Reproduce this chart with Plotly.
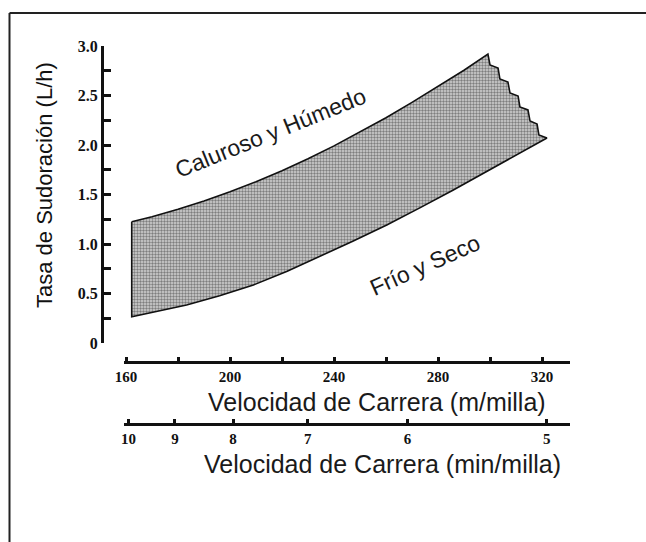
import plotly.graph_objects as go

# Sweat-rate band: upper (hot & humid) and lower (cool & dry) limits
upper_speed = [162.2, 170, 180, 190, 200, 210, 220, 230, 240, 250, 260, 270, 280, 290, 299.2]
upper_rate = [1.225, 1.276, 1.351, 1.434, 1.527, 1.629, 1.740, 1.861, 1.991, 2.130, 2.275,
              2.430, 2.590, 2.755, 2.919]

# Broken (zig-zag) right edge of the band, top to bottom
edge_speed = [300.0, 303.1, 303.8, 306.9, 307.7, 310.8, 311.5, 314.6, 315.4, 318.1, 318.8, 321.9]
edge_rate = [2.808, 2.778, 2.667, 2.636, 2.525, 2.495, 2.384, 2.354, 2.242, 2.212, 2.101, 2.071]

lower_speed = [162.2, 172, 183.3, 196, 209, 222, 234.6, 247, 260.3, 273, 285.9, 300, 311, 321.9]
lower_rate = [0.266, 0.318, 0.384, 0.478, 0.586, 0.725, 0.872, 1.025, 1.192, 1.365, 1.545,
              1.750, 1.910, 2.071]

# Axis ticks
speed_ticks = [160, 180, 200, 220, 240, 260, 280, 300, 320]
speed_labels = ["160", "", "200", "", "240", "", "280", "", "320"]
pace_ticks = [10, 9, 8, 7, 6, 5]  # min per mile
rate_ticks = [0, 0.5, 1.0, 1.5, 2.0, 2.5, 3.0]
rate_labels = ["0", "0.5", "1.0", "1.5", "2.0", "2.5", "3.0"]

METERS_PER_MILE = 1609.34
pace_positions = [METERS_PER_MILE / p for p in pace_ticks]

band_x = upper_speed + edge_speed + lower_speed[::-1][1:] + [upper_speed[0]]
band_y = upper_rate + edge_rate + lower_rate[::-1][1:] + [upper_rate[0]]

W, H = 646, 542
ML, MR, MT, MB = 102, 76, 46, 112
PW, PH = W - ML - MR, H - MT - MB


def px(xp):
    return (xp - ML) / PW


def py(yp):
    return (H - MB - yp) / PH


fig = go.Figure()
fig.add_trace(go.Scatter(
    x=band_x, y=band_y, mode="lines", fill="toself",
    line=dict(color="#111", width=1.6),
    fillcolor="#c8c8c8",
    fillpattern=dict(shape=".", size=3, solidity=0.5, fgcolor="#2a2a2a", bgcolor="#d2d2d2"),
    hoverinfo="skip", showlegend=False,
))
# keeps the pace axis attached
fig.add_trace(go.Scatter(x=[pace_positions[0]], y=[0], xaxis="x2", mode="markers",
                         marker=dict(opacity=0), hoverinfo="skip", showlegend=False))

tick_font = dict(family="Liberation Serif", size=15, color="#111", weight="bold")
x_dom = [px(124), 1]
x_rng = [159.23, 330.77]

fig.update_layout(
    width=W, height=H,
    margin=dict(l=ML, r=MR, t=MT, b=MB, pad=0),
    paper_bgcolor="white", plot_bgcolor="rgba(0,0,0,0)",
    xaxis=dict(domain=x_dom, range=x_rng, anchor="free", position=py(362),
               showline=True, linewidth=3, linecolor="#111", showgrid=False, zeroline=False,
               ticks="inside", ticklen=4, tickwidth=3, tickcolor="#111",
               tickvals=speed_ticks, ticktext=speed_labels, tickfont=tick_font),
    xaxis2=dict(domain=x_dom, range=x_rng, overlaying="x", anchor="free", position=py(424),
                side="bottom", showline=True, linewidth=3, linecolor="#111", showgrid=False,
                zeroline=False, ticks="inside", ticklen=4, tickwidth=3, tickcolor="#111",
                tickvals=pace_positions, ticktext=[str(p) for p in pace_ticks], tickfont=tick_font),
    yaxis=dict(domain=[py(343), 1], range=[0, 3], anchor="free", position=0,
               showline=True, linewidth=3, linecolor="#111", showgrid=False, zeroline=False,
               ticks="inside", ticklen=7, tickwidth=3, tickcolor="#111",
               tickvals=rate_ticks, ticktext=rate_labels,
               tickfont=dict(family="Liberation Serif", size=16, color="#111", weight="bold"),
               minor=dict(dtick=0.25, tick0=0, ticks="inside", ticklen=7, tickwidth=3,
                          tickcolor="#111")),
)

title_font = dict(family="Liberation Sans", size=25, color="#1a1a1a")
fig.add_annotation(text="Velocidad de Carrera (m/milla)", xref="paper", yref="paper",
                   x=px(377), y=py(402), xanchor="center", yanchor="middle",
                   showarrow=False, font=title_font)
fig.add_annotation(text="Velocidad de Carrera (min/milla)", xref="paper", yref="paper",
                   x=px(382), y=py(464), xanchor="center", yanchor="middle",
                   showarrow=False, font=title_font)
fig.add_annotation(text="Tasa de Sudoración (L/h)", xref="paper", yref="paper",
                   x=px(44), y=py(185), xanchor="center", yanchor="middle",
                   showarrow=False, textangle=-90,
                   font=dict(family="Liberation Sans", size=22, color="#111"))

label_font = dict(family="Liberation Sans", size=23, color="#1a1a1a")
fig.add_annotation(text="Caluroso y Húmedo", x=215.4, y=2.12, xanchor="center",
                   yanchor="middle", showarrow=False, textangle=-22, font=label_font)
fig.add_annotation(text="Frío y Seco", x=275.0, y=0.79, xanchor="center",
                   yanchor="middle", showarrow=False, textangle=-24, font=label_font)

# outer frame (left and top edges)
frame = dict(color="#222", width=2)
fig.add_shape(type="line", xref="paper", yref="paper", x0=px(9.5), x1=px(9.5),
              y0=py(13), y1=py(542), line=frame)
fig.add_shape(type="line", xref="paper", yref="paper", x0=px(9.5), x1=px(646),
              y0=py(13), y1=py(13), line=frame)

fig.write_html("out.html")
